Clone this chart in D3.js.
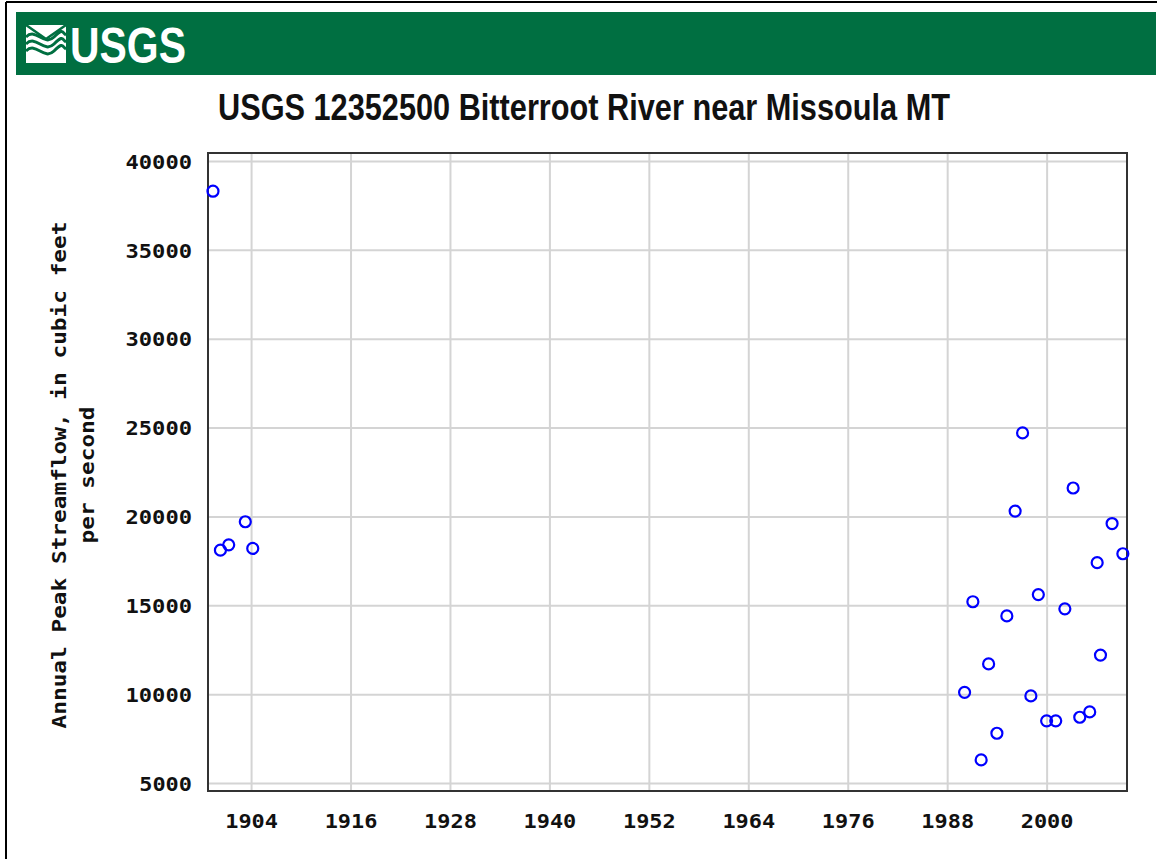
<!DOCTYPE html>
<html>
<head>
<meta charset="utf-8">
<script src="https://cdn.jsdelivr.net/npm/d3@7"></script>
<style>
  body { margin: 0; background: #fff; }
  svg { display: block; }
</style>
</head>
<body>
<div id="chart"></div>
<script>
// peak dates (decimal year) and annual peak flow, cfs
const peakYears = [1899.4, 1900.3, 1901.3, 1903.3, 1904.2,
  1990.1, 1991.1, 1992.1, 1993.0, 1994.0, 1995.2, 1996.2, 1997.1, 1998.1, 1999.0,
  2000.0, 2001.1, 2002.2, 2003.2, 2004.0, 2005.2, 2006.1, 2006.5, 2007.9, 2009.2];
const peakFlows = [38300, 18100, 18400, 19700, 18200,
  10100, 15200, 6300, 11700, 7800, 14400, 20300, 24700, 9900, 15600,
  8500, 8500, 14800, 21600, 8700, 9000, 17400, 12200, 19600, 17900];

const xTicks = [1904, 1916, 1928, 1940, 1952, 1964, 1976, 1988, 2000];
const yTicks = [5000, 10000, 15000, 20000, 25000, 30000, 35000, 40000];

const title = "USGS 12352500 Bitterroot River near Missoula MT";
const yLabel = ["Annual Peak Streamflow, in cubic feet", "per second"];

const width = 1157, height = 859;
const plot = { left: 208, right: 1127, top: 153, bottom: 791 };
const mono = "'DejaVu Sans Mono', 'Liberation Mono', monospace";
const charW = 13.7;

const svg = d3.select("#chart").append("svg")
  .attr("width", width)
  .attr("height", height);

// outer frame (left + top)
svg.append("line").attr("x1", 6).attr("x2", 6).attr("y1", 2).attr("y2", height)
  .attr("stroke", "#000").attr("stroke-width", 2);
svg.append("line").attr("x1", 6).attr("x2", width).attr("y1", 2).attr("y2", 2)
  .attr("stroke", "#000").attr("stroke-width", 2);

// USGS banner
const green = "#006f41";
svg.append("rect").attr("x", 16).attr("y", 12).attr("width", 1140).attr("height", 63)
  .attr("fill", green);

const logo = svg.append("g").attr("transform", "translate(26,25)");
logo.append("rect").attr("width", 40).attr("height", 38).attr("fill", "#fff");
[0, 7, 14].forEach(o => {
  logo.append("path")
    .attr("d", `M0,${12 + o} C10,${2 + o} 18,${22 + o} 28,${12 + o} S36,${8 + o} 40,${10 + o}`)
    .attr("fill", "none").attr("stroke", green).attr("stroke-width", 3);
});
logo.append("path").attr("d", "M0,0 L20,14 L40,0").attr("fill", "none")
  .attr("stroke", green).attr("stroke-width", 2.5);

svg.append("text")
  .attr("x", 70).attr("y", 63)
  .attr("font-family", "'Liberation Sans Narrow', 'Liberation Sans', Arial, sans-serif")
  .attr("font-weight", "bold")
  .attr("font-size", 50)
  .attr("fill", "#fff")
  .attr("textLength", 116)
  .attr("lengthAdjust", "spacingAndGlyphs")
  .text("USGS");

// title
svg.append("text")
  .attr("x", 218).attr("y", 120)
  .attr("font-family", "'Liberation Sans Narrow', 'Liberation Sans', Arial, sans-serif")
  .attr("font-weight", "bold")
  .attr("font-size", 36)
  .attr("fill", "#111")
  .attr("textLength", 732)
  .attr("lengthAdjust", "spacingAndGlyphs")
  .text(title);

// scales
const x = d3.scaleLinear().domain([1898.8, 2009.7]).range([plot.left, plot.right]);
const y = d3.scaleLinear().domain([4550, 40450]).range([plot.bottom, plot.top]);

const plotW = plot.right - plot.left, plotH = plot.bottom - plot.top;

const yAxis = svg.append("g")
  .attr("transform", `translate(${plot.left},0)`)
  .call(d3.axisLeft(y).tickValues(yTicks).tickSize(-plotW).tickPadding(16).tickFormat(d3.format("d")));

const xAxis = svg.append("g")
  .attr("transform", `translate(0,${plot.bottom})`)
  .call(d3.axisBottom(x).tickValues(xTicks).tickSize(-plotH).tickPadding(23).tickFormat(d3.format("d")));

[xAxis, yAxis].forEach(g => {
  g.select(".domain").remove();
  g.selectAll(".tick line").attr("stroke", "#d4d4d4").attr("stroke-width", 2);
  g.selectAll(".tick text")
    .attr("font-family", mono)
    .attr("font-weight", "bold")
    .attr("font-size", 20)
    .attr("fill", "#111")
    .attr("textLength", function () { return this.textContent.length * charW - 2; })
    .attr("lengthAdjust", "spacingAndGlyphs");
});
yAxis.selectAll(".tick text").attr("dy", "0.36em");

// plot frame
svg.append("rect")
  .attr("x", plot.left).attr("y", plot.top)
  .attr("width", plotW).attr("height", plotH)
  .attr("fill", "none").attr("stroke", "#333").attr("stroke-width", 2);

// y label, two rotated lines
const cy = 475;
yLabel.forEach((t, i) => {
  svg.append("text")
    .attr("transform", `translate(${66 + i * 28},${cy}) rotate(-90)`)
    .attr("text-anchor", "middle")
    .attr("font-family", mono)
    .attr("font-weight", "bold")
    .attr("font-size", 19)
    .attr("fill", "#111")
    .attr("textLength", t.length * charW)
    .attr("lengthAdjust", "spacingAndGlyphs")
    .text(t);
});

// points
svg.append("g")
  .selectAll("circle")
  .data(peakYears.map((yr, i) => ({ yr, q: peakFlows[i] })))
  .join("circle")
  .attr("cx", d => x(d.yr))
  .attr("cy", d => y(d.q))
  .attr("r", 5.5)
  .attr("fill", "none")
  .attr("stroke", "#0000ff")
  .attr("stroke-width", 2.2);
</script>
</body>
</html>
